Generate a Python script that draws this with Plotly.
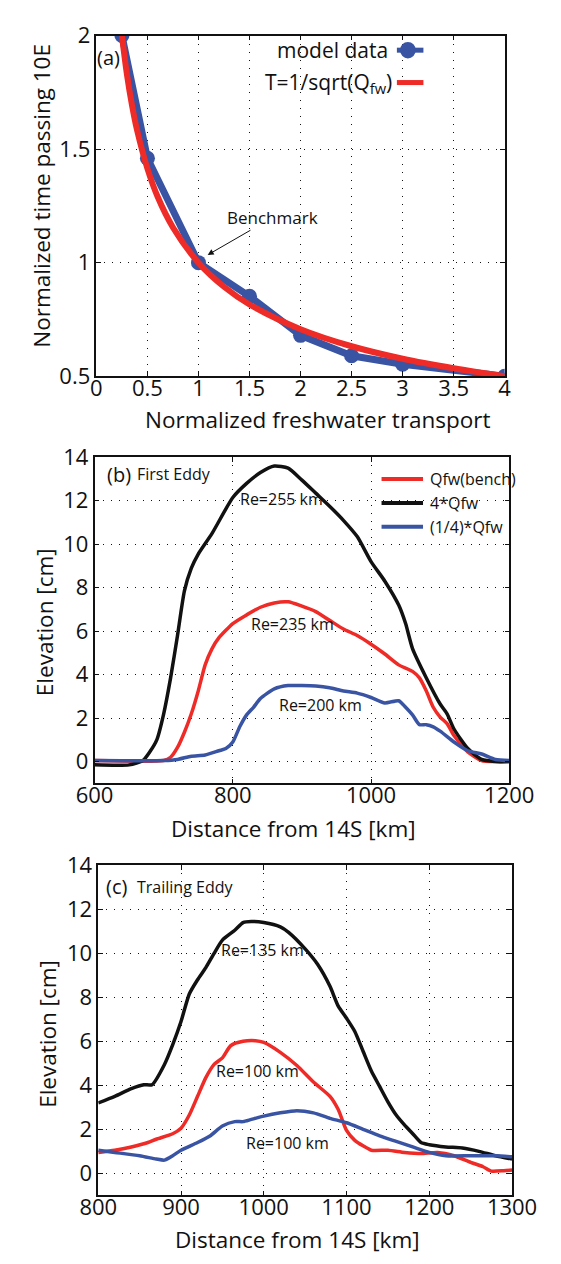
import plotly.graph_objects as go

# ---------------- data ----------------
# Panel (a)
qfw_model = [0.25, 0.5, 1.0, 1.5, 2.0, 2.5, 3.0, 4.0]
t_model = [2.0, 1.46, 1.0, 0.852, 0.68, 0.59, 0.553, 0.5]
qfw_theory = [0.25, 0.3, 0.35, 0.4, 0.5, 0.6, 0.75, 1.0, 1.25, 1.5, 2.0, 2.5, 3.0, 3.5, 4.0]
t_theory = [2.0, 1.826, 1.69, 1.58, 1.414, 1.29, 1.155, 1.0, 0.894, 0.816, 0.707, 0.632, 0.577, 0.535, 0.5]

# Panel (b) First Eddy
xb_black = [600, 650, 670, 680, 690, 700, 710, 720, 730, 740, 750, 770, 800, 820, 840, 860, 880, 900,
            920, 940, 960, 980, 1000, 1020, 1040, 1050, 1060, 1080, 1100, 1110, 1120, 1140, 1160, 1180, 1200]
yb_black = [-0.15, -0.15, 0.05, 0.45, 1.0, 2.2, 3.85, 5.8, 7.85, 8.9, 9.55, 10.5, 12.15, 12.8, 13.3, 13.6, 13.5, 12.95,
            12.35, 11.75, 11.1, 10.35, 9.2, 8.3, 7.2, 6.35, 5.2, 3.85, 2.65, 2.2, 1.5, 0.6, 0.1, 0.0, 0.0]
xb_red = [600, 700, 710, 720, 730, 740, 750, 760, 770, 780, 800, 820, 840, 860, 880, 900, 920, 940, 960, 980,
          1000, 1020, 1040, 1060, 1070, 1080, 1090, 1100, 1110, 1120, 1140, 1160, 1180, 1200]
yb_red = [0.05, 0.05, 0.2, 0.65, 1.35, 2.2, 3.25, 4.45, 5.2, 5.7, 6.35, 6.75, 7.1, 7.3, 7.35, 7.15, 6.9, 6.5, 6.1, 5.8,
          5.4, 4.95, 4.45, 4.15, 3.85, 3.25, 2.5, 2.05, 1.75, 1.2, 0.45, 0.05, 0.0, 0.0]
xb_blue = [600, 700, 720, 740, 760, 780, 790, 800, 810, 820, 830, 840, 860, 880, 900, 920, 940, 960, 980, 1000,
           1020, 1040, 1050, 1060, 1070, 1080, 1090, 1100, 1120, 1140, 1160, 1180, 1200]
yb_blue = [0.05, 0.05, 0.1, 0.25, 0.3, 0.5, 0.6, 0.9, 1.6, 2.15, 2.5, 2.9, 3.35, 3.5, 3.5, 3.48, 3.4, 3.25, 3.15, 2.95,
           2.7, 2.8, 2.5, 2.15, 1.7, 1.7, 1.6, 1.4, 0.9, 0.5, 0.35, 0.1, 0.05]

# Panel (c) Trailing Eddy
xc_black = [800, 820, 840, 855, 865, 880, 890, 900, 910, 920, 930, 940, 950, 965, 975, 985, 1000, 1020, 1030, 1050,
            1065, 1080, 1090, 1100, 1110, 1120, 1130, 1140, 1150, 1160, 1170, 1180, 1190, 1200, 1220, 1240, 1260,
            1280, 1300]
yc_black = [3.2, 3.5, 3.85, 4.03, 4.03, 4.95, 5.85, 6.9, 8.15, 8.8, 9.35, 10.0, 10.6, 11.05, 11.4, 11.45, 11.4, 11.2,
            10.95, 10.2, 9.5, 8.5, 7.6, 7.05, 6.45, 5.55, 4.65, 3.95, 3.25, 2.65, 2.2, 1.8, 1.4, 1.3, 1.2, 1.15, 1.0,
            0.8, 0.65]
xc_red = [800, 820, 840, 860, 870, 890, 900, 910, 920, 930, 940, 950, 960, 975, 990, 1000, 1020, 1040, 1060, 1080,
          1090, 1100, 1110, 1120, 1130, 1150, 1170, 1190, 1210, 1230, 1250, 1265, 1275, 1290, 1300]
yc_red = [0.95, 1.05, 1.2, 1.4, 1.55, 1.8, 2.05, 2.65, 3.5, 4.35, 4.95, 5.25, 5.8, 6.0, 6.03, 5.95, 5.5, 4.9, 4.15, 3.5,
          2.9, 1.95, 1.5, 1.25, 1.05, 1.05, 0.95, 0.9, 0.95, 0.8, 0.5, 0.3, 0.1, 0.12, 0.15]
xc_blue = [800, 820, 850, 870, 880, 890, 900, 920, 935, 950, 965, 975, 985, 1000, 1020, 1040, 1060, 1080, 1100, 1120,
           1140, 1160, 1180, 1200, 1220, 1250, 1280, 1300]
yc_blue = [1.05, 0.95, 0.8, 0.65, 0.6, 0.8, 1.05, 1.4, 1.7, 2.15, 2.35, 2.35, 2.45, 2.6, 2.75, 2.85, 2.75, 2.5, 2.3,
           2.0, 1.7, 1.45, 1.2, 0.95, 0.8, 0.8, 0.8, 0.75]

# tick values
xa_ticks = [0, 0.5, 1, 1.5, 2, 2.5, 3, 3.5, 4]
xa_labels = ["0", "0.5", "1", "1.5", "2", "2.5", "3", "3.5", "4"]
ya_ticks = [0.5, 1, 1.5, 2]
ya_labels = ["0.5", "1", "1.5", "2"]
xb_ticks = [600, 800, 1000, 1200]
xc_ticks = [800, 900, 1000, 1100, 1200, 1300]
y_elev_ticks = [0, 2, 4, 6, 8, 10, 12, 14]

# ---------------- style ----------------
BLUE = "#3a54a4"
RED = "#ee2b26"
BLACK = "#111111"
FONT = "Open Sans"
W, H = 561, 1264

fig = go.Figure()

# panel (a)
fig.add_trace(go.Scatter(x=qfw_model, y=t_model, mode="lines+markers", line=dict(color=BLUE, width=7),
                         marker=dict(color=BLUE, size=15), xaxis="x", yaxis="y", showlegend=False))
fig.add_trace(go.Scatter(x=qfw_theory, y=t_theory, mode="lines", line=dict(color=RED, width=6, shape="spline"),
                         xaxis="x", yaxis="y", showlegend=False))

# panel (b)
for xs, ys, c in [(xb_red, yb_red, RED), (xb_black, yb_black, BLACK), (xb_blue, yb_blue, BLUE)]:
    fig.add_trace(go.Scatter(x=xs, y=ys, mode="lines", line=dict(color=c, width=3.5, shape="spline", smoothing=0.6),
                             xaxis="x2", yaxis="y2", showlegend=False))
# panel (c)
for xs, ys, c in [(xc_black, yc_black, BLACK), (xc_red, yc_red, RED), (xc_blue, yc_blue, BLUE)]:
    fig.add_trace(go.Scatter(x=xs, y=ys, mode="lines", line=dict(color=c, width=3.5, shape="spline", smoothing=0.6),
                             xaxis="x3", yaxis="y3", showlegend=False))


def px_dom_x(a, b):
    return [a / W, b / W]


def px_dom_y(top, bottom):
    return [1 - bottom / H, 1 - top / H]


common = dict(showline=True, linecolor=BLACK, linewidth=1.5, mirror="allticks", ticks="inside", ticklen=5,
              tickcolor=BLACK, showgrid=True, gridcolor=BLACK, gridwidth=1, griddash="1px,7px",
              zeroline=False, tickfont=dict(family=FONT, size=22, color=BLACK))
xcommon = dict(ticklabelstandoff=-8, **common)

fig.update_layout(
    width=W, height=H, margin=dict(l=0, r=0, t=0, b=0),
    paper_bgcolor="white", plot_bgcolor="white", showlegend=False,
    font=dict(family=FONT, color=BLACK),
    xaxis=dict(domain=px_dom_x(84, 527), anchor="y", range=[0, 4], tickvals=xa_ticks, ticktext=xa_labels, **xcommon),
    yaxis=dict(domain=px_dom_y(20, 369), anchor="x", range=[0.5, 2], tickvals=ya_ticks, ticktext=ya_labels, **common),
    xaxis2=dict(domain=px_dom_x(82, 532), anchor="y2", range=[600, 1200], tickvals=xb_ticks, **xcommon),
    yaxis2=dict(domain=px_dom_y(452, 786), anchor="x2", range=[-1, 14], tickvals=y_elev_ticks, **common),
    xaxis3=dict(domain=px_dom_x(86, 535), anchor="y3", range=[800, 1300], tickvals=xc_ticks, **xcommon),
    yaxis3=dict(domain=px_dom_y(870, 1208), anchor="x3", range=[-1, 14], tickvals=y_elev_ticks, **common),
)

ann = []
TFONT = dict(family=FONT, size=22.5, color=BLACK)


def title_x(text, cx, cy):
    ann.append(dict(x=cx / W, y=1 - cy / H, xref="paper", yref="paper", text=text, showarrow=False,
                    xanchor="center", yanchor="middle", font=TFONT))


def title_y(text, cx, cy):
    ann.append(dict(x=cx / W, y=1 - cy / H, xref="paper", yref="paper", text=text, showarrow=False,
                    xanchor="center", yanchor="middle", textangle=-90, font=TFONT))


title_x("Normalized freshwater transport", 324, 413)
title_y("Normalized time passing 10E", 25, 184)
title_x("Distance from 14S [km]", 298, 832)
title_y("Elevation [cm]", 27, 621)
title_x("Distance from 14S [km]", 302, 1253)
title_y("Elevation [cm]", 31, 1043)

# panel (a) texts
ann.append(dict(x=0.12, y=1.905, xref="x", yref="y", text="(a)", showarrow=False, yanchor="middle",
                font=dict(family=FONT, size=20, color=BLACK)))
ann.append(dict(x=1.09, y=1.034, xref="x", yref="y", ax=1.73, ay=1.2, axref="x", ayref="y", text="Benchmark",
                showarrow=True, arrowhead=2, arrowsize=1.2, arrowwidth=1, arrowcolor=BLACK,
                font=dict(family=FONT, size=17, color=BLACK)))
# panel (a) legend
ann.append(dict(x=0.72, y=0.957, xref="x domain", yref="y domain", text="model data", showarrow=False,
                xanchor="right", yanchor="middle", font=dict(family=FONT, size=21, color=BLACK)))
ann.append(dict(x=0.729, y=0.862, xref="x domain", yref="y domain", text="T=1/sqrt(Q<sub>fw</sub>)",
                showarrow=False, xanchor="right", yanchor="middle", font=dict(family=FONT, size=21, color=BLACK)))

shapes = []
shapes.append(dict(type="line", xref="x domain", yref="y domain", x0=0.736, x1=0.801, y0=0.957, y1=0.957,
                   line=dict(color=BLUE, width=5)))
shapes.append(dict(type="circle", xref="x domain", yref="y domain", x0=0.763 - 0.0192, x1=0.763 + 0.0192,
                   y0=0.957 - 0.0243, y1=0.957 + 0.0243, fillcolor=BLUE, line=dict(color=BLUE, width=0)))
shapes.append(dict(type="line", xref="x domain", yref="y domain", x0=0.736, x1=0.801, y0=0.862, y1=0.862,
                   line=dict(color=RED, width=5)))

# panel (b) texts
ann.append(dict(x=0.024, y=0.948, xref="x2 domain", yref="y2 domain", text="(b)", showarrow=False, xanchor="left",
                yanchor="middle", font=dict(family=FONT, size=20, color=BLACK)))
ann.append(dict(x=0.098, y=0.948, xref="x2 domain", yref="y2 domain", text="First Eddy", showarrow=False,
                xanchor="left", yanchor="middle", font=dict(family=FONT, size=16, color=BLACK)))
ann.append(dict(x=870, y=12.1, xref="x2", yref="y2", text="Re=255 km", showarrow=False, yanchor="middle",
                font=dict(family=FONT, size=16, color=BLACK)))
ann.append(dict(x=887, y=6.35, xref="x2", yref="y2", text="Re=235 km", showarrow=False, yanchor="middle",
                font=dict(family=FONT, size=16, color=BLACK)))
ann.append(dict(x=927, y=2.6, xref="x2", yref="y2", text="Re=200 km", showarrow=False, yanchor="middle",
                font=dict(family=FONT, size=16, color=BLACK)))
leg_b = [("Qfw(bench)", RED, 0.933), ("4*Qfw", BLACK, 0.86), ("(1/4)*Qfw", BLUE, 0.787)]
for txt, col, yy in leg_b:
    shapes.append(dict(type="line", xref="x2 domain", yref="y2 domain", x0=0.692, x1=0.792, y0=yy, y1=yy,
                       line=dict(color=col, width=4)))
    ann.append(dict(x=0.803, y=yy, xref="x2 domain", yref="y2 domain", text=txt, showarrow=False, xanchor="left",
                    yanchor="middle", font=dict(family=FONT, size=16, color=BLACK)))

# panel (c) texts
ann.append(dict(x=0.015, y=0.935, xref="x3 domain", yref="y3 domain", text="(c)", showarrow=False, xanchor="left",
                yanchor="middle", font=dict(family=FONT, size=20, color=BLACK)))
ann.append(dict(x=0.09, y=0.935, xref="x3 domain", yref="y3 domain", text="Trailing Eddy", showarrow=False,
                xanchor="left", yanchor="middle", font=dict(family=FONT, size=16, color=BLACK)))
ann.append(dict(x=998, y=10.15, xref="x3", yref="y3", text="Re=135 km", showarrow=False, yanchor="middle",
                font=dict(family=FONT, size=16, color=BLACK)))
ann.append(dict(x=992, y=4.65, xref="x3", yref="y3", text="Re=100 km", showarrow=False, yanchor="middle",
                font=dict(family=FONT, size=16, color=BLACK)))
ann.append(dict(x=1029, y=1.4, xref="x3", yref="y3", text="Re=100 km", showarrow=False, yanchor="middle",
                font=dict(family=FONT, size=16, color=BLACK)))

fig.update_layout(annotations=ann, shapes=shapes)
fig.write_html("out.html")
